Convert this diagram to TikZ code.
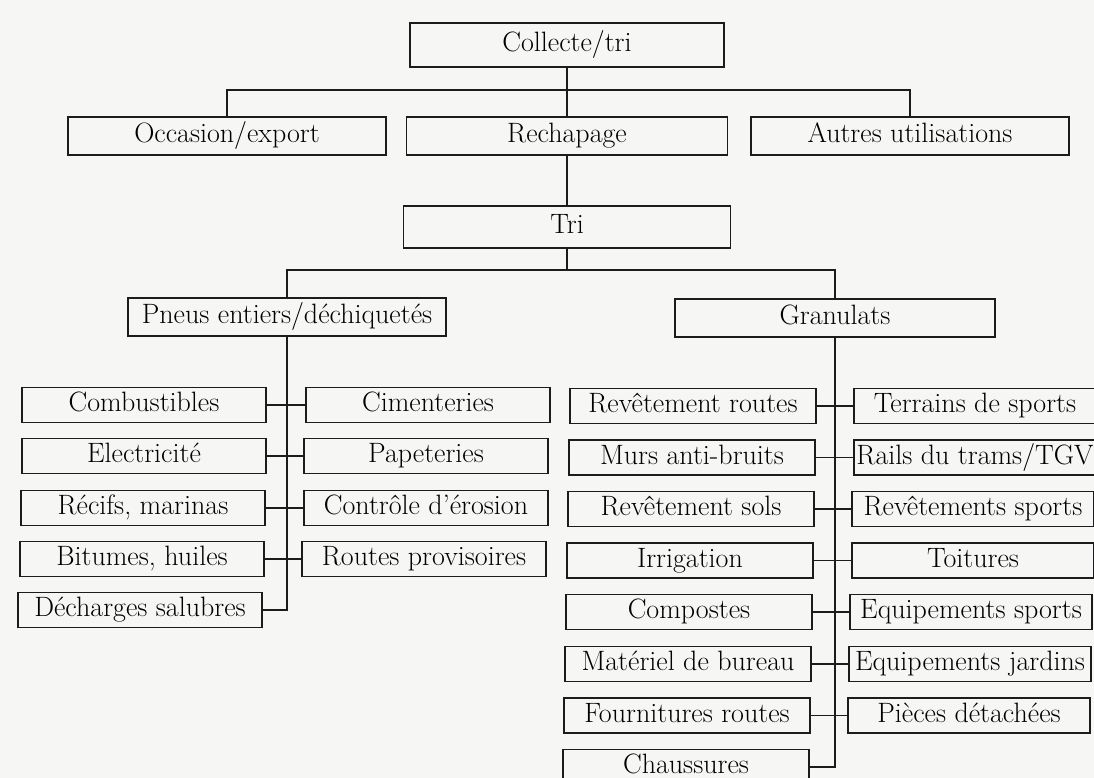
\documentclass[tikz,border=0pt]{standalone}
\usepackage{fontspec}
\usetikzlibrary{positioning}
\definecolor{paper}{HTML}{F6F6F4}
\definecolor{ink}{HTML}{1C1C1C}

\begin{document}
\begin{tikzpicture}[x=1pt, y=-1pt,
    box/.style={
      draw=ink,
      line width=1.3pt,
      inner sep=2pt,
      text height=19pt,
      text depth=6pt,
      minimum height=35pt,
      font=\fontsize{28}{32}\selectfont
    },
    topbox/.style={box, minimum width=318pt, minimum height=38pt},
    pneubox/.style={box, minimum width=244pt},
    granbox/.style={box, minimum width=246pt},
    usebox/.style={box, minimum width=242pt},
    link/.style={draw=ink, line width=1.2pt}]
  \fill[paper] (0,0) rectangle (1094,778);
  \clip (0,0) rectangle (1094,778);

  \node[box, minimum width=314pt, minimum height=44pt] (collecte) at (567,45) {Collecte/tri};
  \node[topbox] (occasion) at (227,136) {Occasion/export};
  \node[topbox, minimum width=321pt] (rechapage) at (567,136) {Rechapage};
  \node[topbox] (autres) at (910,136) {Autres utilisations};
  \node[box, minimum width=327pt, minimum height=42pt] (tri) at (567,227) {Tri};
  \node[topbox] (pneus) at (287,317) {Pneus entiers/déchiquetés};
  \node[topbox, minimum width=320pt] (granulats) at (835,318) {Granulats};

  \node[pneubox] (combustibles) at (144,405) {Combustibles};
  \node[pneubox] (electricite) at (144,456) {Electricité};
  \node[pneubox] (recifs) at (143,508) {Récifs, marinas};
  \node[pneubox] (bitumes) at (142,559) {Bitumes, huiles};
  \node[pneubox] (decharges) at (140,610) {Décharges salubres};
  \node[pneubox] (cimenteries) at (428,405) {Cimenteries};
  \node[pneubox] (papeteries) at (426,456) {Papeteries};
  \node[pneubox] (erosion) at (426,508) {Contrôle d’érosion};
  \node[pneubox] (routesprov) at (424,559) {Routes provisoires};

  \node[granbox] (revroutes) at (693,406) {Revêtement routes};
  \node[granbox] (murs) at (692,457.5) {Murs anti-bruits};
  \node[granbox] (revsols) at (691,509) {Revêtement sols};
  \node[granbox] (irrigation) at (690,560.5) {Irrigation};
  \node[granbox] (compostes) at (689,612) {Compostes};
  \node[granbox] (materiel) at (688,664) {Matériel de bureau};
  \node[granbox] (fournitures) at (687,715.5) {Fournitures routes};
  \node[granbox] (chaussures) at (686,767) {Chaussures};
  \node[usebox] (terrains) at (975,406) {Terrains de sports};
  \node[usebox] (rails) at (975,457.5) {Rails du trams/TGV};
  \node[usebox] (revsports) at (973,509) {Revêtements sports};
  \node[usebox] (toitures) at (973,560.5) {Toitures};
  \node[usebox] (equipsports) at (971,612) {Equipements sports};
  \node[usebox] (equipjardins) at (970,664) {Equipements jardins};
  \node[usebox] (pieces) at (969,715.5) {Pièces détachées};

  \coordinate (busA) at (567,90);
  \coordinate (busB) at (567,270);
  \draw[link] (collecte) -- (rechapage);
  \draw[link] (occasion.north) |- (busA) -| (autres.north);
  \draw[link] (rechapage) -- (tri);
  \draw[link] (tri) -- (busB);
  \draw[link] (pneus.north) |- (busB) -| (granulats.north);

  \draw[link] (pneus.south) |- (decharges.east);
  \draw[link] (combustibles) -- (cimenteries);
  \draw[link] (electricite) -- (papeteries);
  \draw[link] (recifs) -- (erosion);
  \draw[link] (bitumes) -- (routesprov);

  \draw[link] (granulats.south) |- (chaussures.east);
  \draw[link] (revroutes) -- (terrains);
  \draw[link] (murs) -- (rails);
  \draw[link] (revsols) -- (revsports);
  \draw[link] (irrigation) -- (toitures);
  \draw[link] (compostes) -- (equipsports);
  \draw[link] (materiel) -- (equipjardins);
  \draw[link] (fournitures) -- (pieces);
\end{tikzpicture}
\end{document}
